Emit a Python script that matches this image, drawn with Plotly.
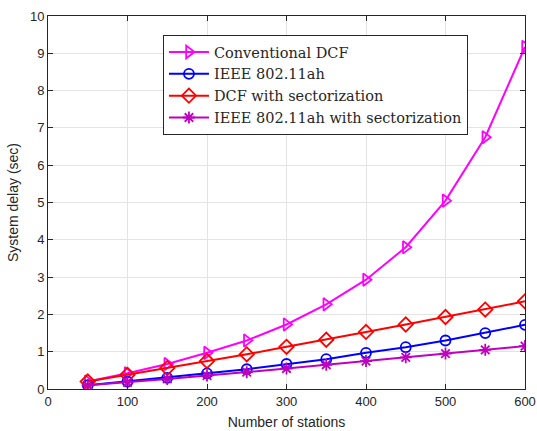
import plotly.graph_objects as go

stations = [50, 100, 150, 200, 250, 300, 350, 400, 450, 500, 550, 600]
conv_dcf = [0.2, 0.42, 0.67, 0.97, 1.3, 1.73, 2.27, 2.93, 3.8, 5.05, 6.75, 9.17]
ieee_ah = [0.1, 0.2, 0.3, 0.42, 0.53, 0.67, 0.8, 0.97, 1.12, 1.3, 1.5, 1.72]
dcf_sect = [0.2, 0.38, 0.56, 0.75, 0.93, 1.13, 1.32, 1.53, 1.73, 1.93, 2.13, 2.35]
ieee_ah_sect = [0.1, 0.18, 0.27, 0.36, 0.45, 0.55, 0.65, 0.75, 0.85, 0.95, 1.05, 1.15]

series = [
    ("Conventional DCF", conv_dcf, "#FF00FF", "triangle-right-open", 11),
    ("IEEE 802.11ah", ieee_ah, "#0000FF", "circle-open", 10),
    ("DCF with sectorization", dcf_sect, "#FF0000", "diamond-open", 11),
    ("IEEE 802.11ah with sectorization", ieee_ah_sect, "#BF00BF", "asterisk-open", 10),
]

fig = go.Figure()
for name, ys, color, sym, sz in series:
    fig.add_trace(go.Scatter(
        x=stations, y=ys, name=name, mode="lines+markers",
        line=dict(color=color, width=2),
        marker=dict(symbol=sym, size=sz, color=color, line=dict(width=1.8, color=color)),
    ))

axis_common = dict(
    showgrid=True, gridcolor="#E3E3E3", gridwidth=1,
    showline=True, linecolor="#262626", linewidth=1, mirror="ticks",
    ticks="inside", ticklen=5, tickcolor="#262626",
    tickfont=dict(family="Liberation Sans, Arial", size=13, color="#262626"),
    zeroline=False, automargin=False,
)

fig.update_layout(
    width=537, height=431,
    margin=dict(l=48, r=12, t=16, b=42),
    paper_bgcolor="white", plot_bgcolor="white",
    xaxis=dict(range=[0, 600], tickvals=[0, 100, 200, 300, 400, 500, 600],
               title=dict(text="Number of stations", standoff=9,
                          font=dict(family="Liberation Sans, Arial", size=14, color="#262626")),
               **axis_common),
    yaxis=dict(range=[0, 10], tickvals=list(range(0, 11)),
               title=dict(text="System delay (sec)", standoff=8,
                          font=dict(family="Liberation Sans, Arial", size=14, color="#262626")),
               **axis_common),
    legend=dict(x=0.241, y=0.949, xanchor="left", yanchor="top",
                bgcolor="white", bordercolor="#262626", borderwidth=1,
                font=dict(family="DejaVu Serif, serif", size=14.5, color="#262626"),
                tracegroupgap=0, itemwidth=40),
    showlegend=True,
)

fig.write_html("out.html", config={"displayModeBar": False},
               post_script="document.body.style.margin='0';document.body.style.overflow='hidden';")
